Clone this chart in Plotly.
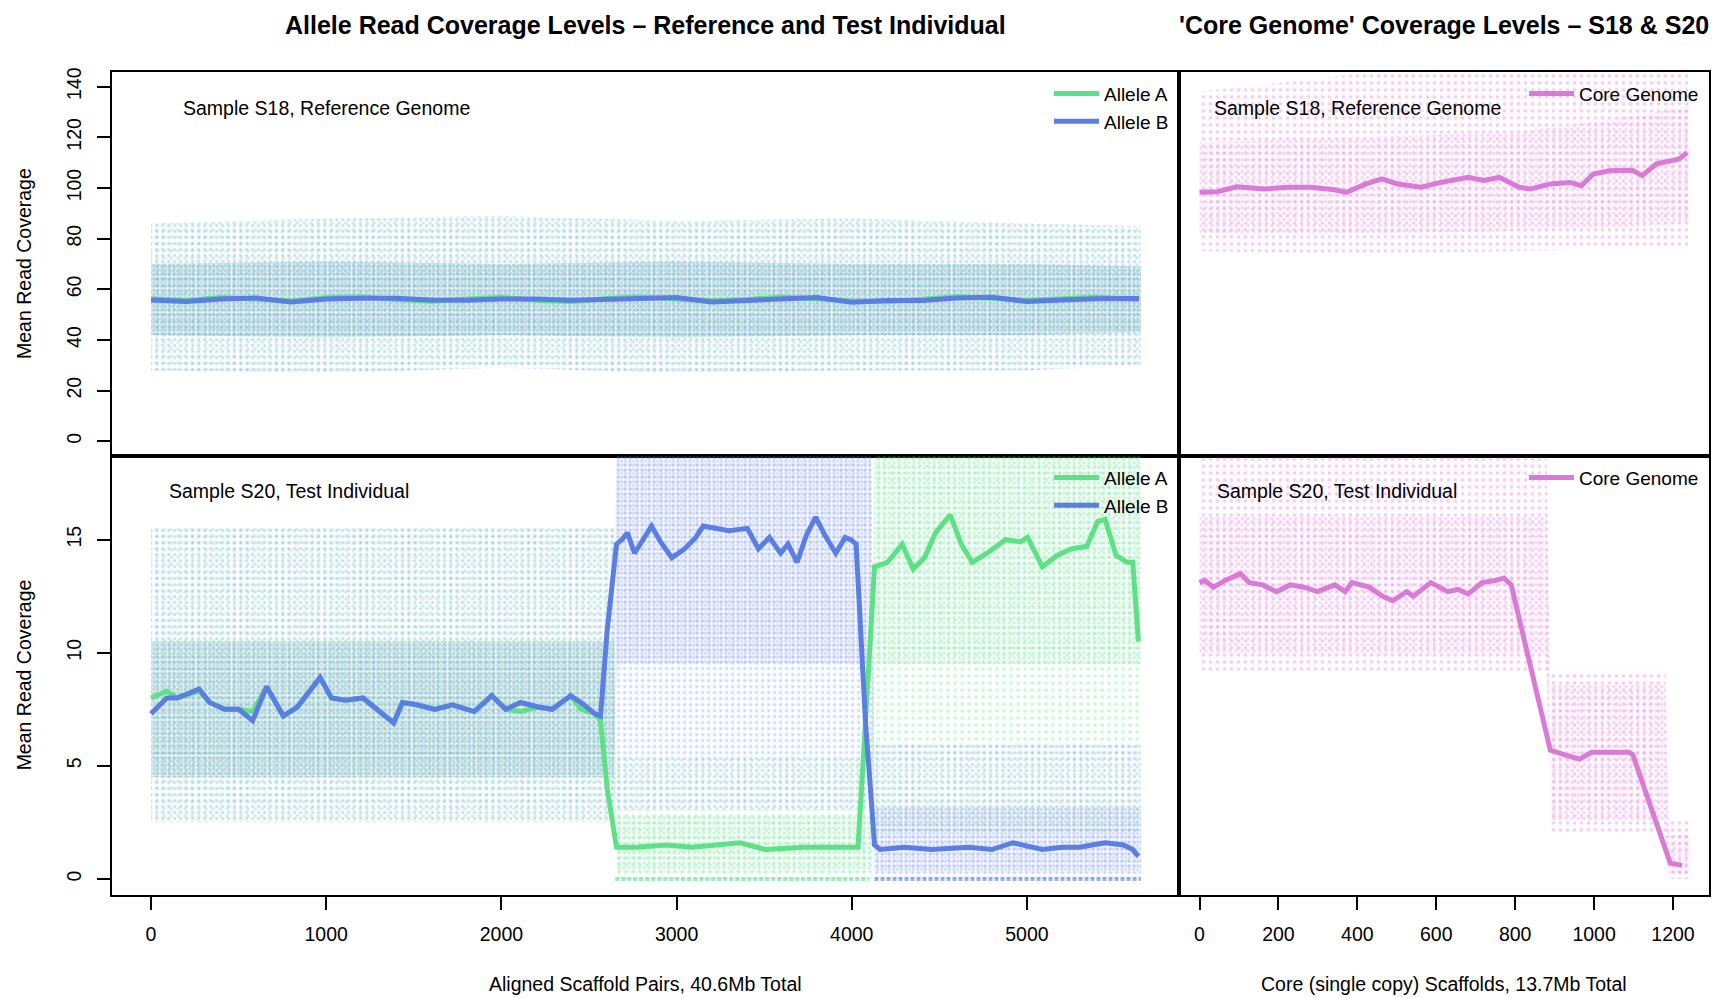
import plotly.graph_objects as go

# ---------------- data ----------------
# Top-left: Sample S18, allele coverage (smoothed lines)
S18_X = [0, 200, 400, 600, 800, 1000, 1200, 1400, 1600, 1800, 2000, 2200, 2400, 2600,
         2800, 3000, 3200, 3400, 3600, 3800, 4000, 4200, 4400, 4600, 4800, 5000, 5200, 5400, 5640]
S18_A = [56.3, 55.6, 56.8, 56.1, 55.4, 56.7, 57.0, 56.0, 55.3, 56.2, 56.8, 55.7, 55.2, 56.4,
         57.0, 56.2, 55.5, 56.0, 56.9, 56.3, 55.4, 55.1, 56.1, 57.1, 56.5, 55.7, 56.3, 56.9, 56.0]
S18_B = [55.8, 55.2, 56.2, 56.6, 55.0, 56.2, 56.5, 56.5, 55.8, 55.7, 56.2, 56.2, 55.7, 55.9,
         56.4, 56.8, 55.0, 55.6, 56.3, 56.8, 54.9, 55.6, 55.6, 56.6, 56.9, 55.2, 55.8, 56.3, 56.4]
# point-cloud envelopes (outer = sparse points, inner = dense core)
S18_CLOUD_X = [0, 1000, 2000, 3000, 4000, 5000, 5650]
S18_OUT_LO = [28, 27, 29, 27, 28, 28, 30]
S18_OUT_HI = [86, 88, 89, 87, 88, 86, 85]
S18_IN_LO = [42, 41, 42, 41, 42, 42, 43]
S18_IN_HI = [70, 71, 70, 71, 70, 70, 69]

# Bottom-left: Sample S20, allele coverage
S20_A_X = [0, 90, 150, 275, 335, 420, 500, 580, 660, 755, 835, 905, 965, 1030, 1110, 1210,
           1270, 1335, 1385, 1435, 1517, 1620, 1720, 1845, 1945, 2025, 2110, 2210, 2290, 2395,
           2455, 2535, 2566, 2604, 2657, 2773, 2941, 3088, 3362, 3509, 3720, 4036, 4078, 4130,
           4204, 4288, 4351, 4415, 4478, 4562, 4625, 4688, 4772, 4878, 4962, 5004, 5088, 5172,
           5256, 5341, 5404, 5446, 5509, 5572, 5604, 5636]
S20_A = [8.0, 8.3, 8.0, 8.3, 7.8, 7.5, 7.5, 7.4, 8.5, 7.2, 7.6, 8.3, 8.9, 8.0, 7.9, 8.0,
         7.6, 7.2, 6.9, 7.8, 7.7, 7.5, 7.7, 7.4, 8.1, 7.5, 7.4, 7.6, 7.5, 8.1,
         7.5, 7.3, 7.0, 4.0, 1.4, 1.4, 1.5, 1.4, 1.6, 1.3, 1.4, 1.4, 7.0, 13.8,
         14.0, 14.8, 13.7, 14.2, 15.3, 16.1, 14.8, 14.0, 14.4, 15.0, 14.9, 15.1, 13.8, 14.3,
         14.6, 14.7, 15.8, 15.9, 14.3, 14.0, 14.0, 10.5]
S20_B_X = [0, 90, 150, 275, 335, 420, 500, 580, 660, 755, 835, 905, 965, 1030, 1110, 1210,
           1270, 1335, 1385, 1435, 1517, 1620, 1720, 1845, 1945, 2025, 2110, 2210, 2290, 2395,
           2455, 2535, 2566, 2604, 2657, 2688, 2720, 2760, 2794, 2857, 2909, 2973, 3046, 3110,
           3152, 3236, 3299, 3404, 3467, 3530, 3594, 3636, 3688, 3741, 3794, 3846, 3909, 3962,
           3994, 4025, 4078, 4130, 4162, 4300, 4457, 4667, 4800, 4920, 5088, 5200, 5299, 5446,
           5551, 5604, 5636]
S20_B = [7.3, 8.0, 8.0, 8.4, 7.8, 7.5, 7.5, 7.0, 8.5, 7.2, 7.6, 8.3, 8.9, 8.0, 7.9, 8.0,
         7.6, 7.2, 6.9, 7.8, 7.7, 7.5, 7.7, 7.4, 8.1, 7.5, 7.8, 7.6, 7.5, 8.1,
         7.8, 7.3, 7.2, 11.0, 14.8, 15.0, 15.3, 14.4, 14.8, 15.6, 14.9, 14.2, 14.6, 15.1,
         15.6, 15.5, 15.4, 15.5, 14.6, 15.1, 14.4, 14.8, 14.0, 15.2, 16.0, 15.2, 14.4, 15.1,
         15.0, 14.8, 7.0, 1.5, 1.3, 1.4, 1.3, 1.4, 1.3, 1.6, 1.3, 1.4, 1.4, 1.6,
         1.5, 1.3, 1.0]
# S20 point-cloud envelopes (step-wise by region)
S20_CLOUD_X = [0, 2640, 2660, 4110, 4130, 5650]
S20_A_OUT_LO = [2.5, 2.5, 0.0, 0.0, 2.0, 2.0]
S20_A_OUT_HI = [15.5, 15.5, 5.5, 5.5, 19.5, 19.5]
S20_A_IN_LO = [4.5, 4.5, 0.3, 0.3, 9.5, 9.5]
S20_A_IN_HI = [10.5, 10.5, 2.8, 2.8, 19.5, 19.5]
S20_B_OUT_LO = [2.5, 2.5, 3.0, 3.0, 0.0, 0.0]
S20_B_OUT_HI = [15.5, 15.5, 19.5, 19.5, 6.0, 6.0]
S20_B_IN_LO = [4.5, 4.5, 9.5, 9.5, 0.3, 0.3]
S20_B_IN_HI = [10.5, 10.5, 19.5, 19.5, 3.2, 3.2]
# rows of zero-coverage points
S20_A_ZERO_X = [2650, 4100]
S20_B_ZERO_X = [4130, 5650]
ZERO_Y = [0, 0]

# Top-right: core genome, Sample S18
CORE18_X = [0, 45, 94, 164, 224, 283, 342, 372, 422, 462, 502, 562, 611, 681, 720, 760,
            810, 839, 889, 939, 968, 998, 1038, 1097, 1122, 1158, 1197, 1216, 1236]
CORE18 = [98.3, 98.5, 100.5, 99.6, 100.3, 100.3, 99.3, 98.3, 101.6, 103.6, 101.6, 100.3,
          102.2, 104.2, 103.0, 104.2, 100.3, 99.6, 101.6, 102.2, 100.9, 105.5, 106.8, 107.0,
          104.9, 109.5, 110.8, 111.5, 114.0]
CORE18_CLOUD_X = [0, 400, 800, 1000, 1240]
CORE18_OUT_LO = [75, 74, 75, 76, 76]
CORE18_OUT_HI = [138, 145, 150, 150, 150]
CORE18_IN_LO = [82, 82, 83, 84, 86]
CORE18_IN_HI = [118, 120, 122, 126, 132]

# Bottom-right: core genome, Sample S20
CORE20_X = [0, 13, 35, 65, 104, 126, 160, 195, 230, 265, 299, 343, 369, 386, 430, 464, 490,
            525, 542, 586, 629, 655, 681, 716, 751, 772, 790, 889, 924, 963, 994, 1054, 1089,
            1098, 1193, 1223]
CORE20 = [13.1, 13.2, 12.9, 13.2, 13.5, 13.1, 13.0, 12.7, 13.0, 12.9, 12.7, 13.0, 12.7, 13.1,
          12.9, 12.5, 12.3, 12.7, 12.5, 13.1, 12.7, 12.8, 12.6, 13.1, 13.2, 13.3, 13.0, 5.7,
          5.5, 5.3, 5.6, 5.6, 5.6, 5.5, 0.7, 0.6]
CORE20_CLOUD_X = [0, 880, 890, 1180, 1190, 1245]
CORE20_OUT_LO = [9.2, 9.2, 2.0, 2.0, 0.0, 0.0]
CORE20_OUT_HI = [18.8, 18.8, 9.2, 9.2, 2.6, 2.6]
CORE20_IN_LO = [9.9, 9.9, 2.6, 2.6, 0.2, 0.2]
CORE20_IN_HI = [16.0, 16.0, 8.6, 8.6, 2.0, 2.0]

TICKS_Y_TOP = [0, 20, 40, 60, 80, 100, 120, 140]
TICKS_Y_BOT = [0, 5, 10, 15]
TICKS_X_LEFT = [0, 1000, 2000, 3000, 4000, 5000]
TICKS_X_RIGHT = [0, 200, 400, 600, 800, 1000, 1200]

# ---------------- styling ----------------
W, H = 1715, 998
FONT = "Liberation Sans, Arial, Helvetica, sans-serif"
GREEN = "94,224,134"
BLUE = "90,126,226"
ORCHID = "216,122,214"


def px(x):
    return x / W


def py(y):
    return 1 - y / H


LX0, LX1, RX1 = 111.6, 1179.0, 1708.5
TY0, MY, BY1 = 67.8, 452.8, 894.7

fig = go.Figure()


def cloud(x, lo, hi, rgb, xa, ya, fill_op, dot_op, size, solidity):
    xs = list(x) + list(x)[::-1]
    ys = list(hi) + list(lo)[::-1]
    fig.add_trace(go.Scatter(
        x=xs, y=ys, mode="lines", fill="toself", line=dict(width=0),
        fillcolor=f"rgba({rgb},{fill_op})",
        fillpattern=dict(shape=".", fgcolor=f"rgb({rgb})", fgopacity=dot_op,
                         size=size, solidity=solidity, fillmode="overlay"),
        hoverinfo="skip", showlegend=False, xaxis=xa, yaxis=ya))


def line(x, y, rgb, name, xa, ya, legend, show=True):
    fig.add_trace(go.Scatter(
        x=x, y=y, mode="lines", name=name,
        line=dict(color=f"rgb({rgb})", width=5),
        showlegend=show, legend=legend, xaxis=xa, yaxis=ya))


OUT_G = (0.02, 0.32, 7, 0.2)
OUT_B = (0.02, 0.32, 6, 0.2)
IN_G = (0.05, 0.35, 5, 0.25)
IN_B = (0.07, 0.4, 4, 0.25)

# top-left clouds
cloud(S18_CLOUD_X, S18_OUT_LO, S18_OUT_HI, GREEN, "x", "y", *OUT_G)
cloud(S18_CLOUD_X, S18_OUT_LO, S18_OUT_HI, BLUE, "x", "y", *OUT_B)
cloud(S18_CLOUD_X, S18_IN_LO, S18_IN_HI, GREEN, "x", "y", *IN_G)
cloud(S18_CLOUD_X, S18_IN_LO, S18_IN_HI, BLUE, "x", "y", *IN_B)
line(S18_X, S18_A, GREEN, "Allele A", "x", "y", "legend")
line(S18_X, S18_B, BLUE, "Allele B", "x", "y", "legend")

# top-right
cloud(CORE18_CLOUD_X, CORE18_OUT_LO, CORE18_OUT_HI, ORCHID, "x2", "y2", 0.02, 0.35, 7, 0.2)
cloud(CORE18_CLOUD_X, CORE18_IN_LO, CORE18_IN_HI, ORCHID, "x2", "y2", 0.04, 0.3, 6, 0.2)
line(CORE18_X, CORE18, ORCHID, "Core Genome", "x2", "y2", "legend3")

# bottom-left
cloud(S20_CLOUD_X, S20_A_OUT_LO, S20_A_OUT_HI, GREEN, "x3", "y3", *OUT_G)
cloud(S20_CLOUD_X, S20_B_OUT_LO, S20_B_OUT_HI, BLUE, "x3", "y3", *OUT_B)
cloud(S20_CLOUD_X, S20_A_IN_LO, S20_A_IN_HI, GREEN, "x3", "y3", *IN_G)
cloud(S20_CLOUD_X, S20_B_IN_LO, S20_B_IN_HI, BLUE, "x3", "y3", 0.05, 0.35, 4, 0.25)
for zx, rgb in ((S20_A_ZERO_X, GREEN), (S20_B_ZERO_X, BLUE)):
    fig.add_trace(go.Scatter(x=zx, y=ZERO_Y, mode="lines",
                             line=dict(color=f"rgba({rgb},0.6)", width=4, dash="4px,2px"),
                             hoverinfo="skip", showlegend=False, xaxis="x3", yaxis="y3"))
line(S20_A_X, S20_A, GREEN, "Allele A", "x3", "y3", "legend2")
line(S20_B_X, S20_B, BLUE, "Allele B", "x3", "y3", "legend2")

# bottom-right
cloud(CORE20_CLOUD_X, CORE20_OUT_LO, CORE20_OUT_HI, ORCHID, "x4", "y4", 0.02, 0.35, 7, 0.2)
cloud(CORE20_CLOUD_X, CORE20_IN_LO, CORE20_IN_HI, ORCHID, "x4", "y4", 0.04, 0.3, 6, 0.2)
line(CORE20_X, CORE20, ORCHID, "Core Genome", "x4", "y4", "legend4")

frame = dict(showline=True, mirror=True, linecolor="black", linewidth=1.6,
             showgrid=False, zeroline=False, tickcolor="black", tickwidth=1.6,
             tickfont=dict(family=FONT, size=19.5, color="black"))

fig.update_layout(
    width=W, height=H, margin=dict(l=0, r=0, t=0, b=0),
    paper_bgcolor="white", plot_bgcolor="white",
    font=dict(family=FONT, size=19.5, color="black"),
    xaxis=dict(domain=[px(LX0), px(LX1)], range=[-225, 5868], anchor="y",
               showticklabels=False, ticks="", **frame),
    yaxis=dict(domain=[py(MY), py(TY0)], range=[-5.6, 145.6], anchor="x",
               tickvals=TICKS_Y_TOP, ticks="outside", ticklen=13, tickangle=-90,
               ticklabelstandoff=8, **frame),
    xaxis2=dict(domain=[px(LX1), px(RX1)], range=[-52, 1290], anchor="y2",
                showticklabels=False, ticks="", **frame),
    yaxis2=dict(domain=[py(MY), py(TY0)], range=[-5.6, 145.6], anchor="x2",
                showticklabels=False, ticks="", **frame),
    xaxis3=dict(domain=[px(LX0), px(LX1)], range=[-225, 5868], anchor="y3",
                tickvals=TICKS_X_LEFT, ticks="outside", ticklen=13,
                ticklabelstandoff=8, **frame),
    yaxis3=dict(domain=[py(BY1), py(MY)], range=[-0.72, 18.72], anchor="x3",
                tickvals=TICKS_Y_BOT, ticks="outside", ticklen=13, tickangle=-90,
                ticklabelstandoff=8, **frame),
    xaxis4=dict(domain=[px(LX1), px(RX1)], range=[-52, 1290], anchor="y4",
                tickvals=TICKS_X_RIGHT, ticks="outside", ticklen=13,
                ticklabelstandoff=8, **frame),
    yaxis4=dict(domain=[py(BY1), py(MY)], range=[-0.72, 18.72], anchor="x4",
                showticklabels=False, ticks="", **frame),
)

leg = dict(bgcolor="rgba(0,0,0,0)", font=dict(family=FONT, size=19),
           xanchor="right", yanchor="top", tracegroupgap=0, itemwidth=45)
fig.update_layout(
    legend=dict(x=px(1174), y=py(70), **leg),
    legend2=dict(x=px(1174), y=py(456), **leg),
    legend3=dict(x=px(1704), y=py(70), **leg),
    legend4=dict(x=px(1704), y=py(456), **leg),
)

ann = []
ann.append(dict(text="<b>Allele Read Coverage Levels \u2013 Reference and Test Individual</b>",
                x=px((LX0 + LX1) / 2), y=py(20), font=dict(size=25)))
ann.append(dict(text="<b>'Core Genome' Coverage Levels \u2013 S18 & S20</b>",
                x=px((LX1 + RX1) / 2), y=py(20), font=dict(size=25)))
ann.append(dict(text="Mean Read Coverage", x=px(24), y=py((TY0 + MY) / 2), textangle=-90))
ann.append(dict(text="Mean Read Coverage", x=px(24), y=py((MY + BY1) / 2), textangle=-90))
ann.append(dict(text="Aligned Scaffold Pairs, 40.6Mb Total", x=px((LX0 + LX1) / 2), y=py(984)))
ann.append(dict(text="Core (single copy) Scaffolds, 13.7Mb Total", x=px((LX1 + RX1) / 2), y=py(984)))
for t, x, y in (("Sample S18, Reference Genome", 180.5, 104),
                ("Sample S20, Test Individual", 167.4, 488),
                ("Sample S18, Reference Genome", 1212, 104),
                ("Sample S20, Test Individual", 1215, 488)):
    ann.append(dict(text=t, x=px(x), y=py(y), xanchor="left"))
for a in ann:
    a.setdefault("xanchor", "center")
    a.update(xref="paper", yref="paper", yanchor="middle", showarrow=False)
fig.update_layout(annotations=ann)

fig.write_html("out.html")
